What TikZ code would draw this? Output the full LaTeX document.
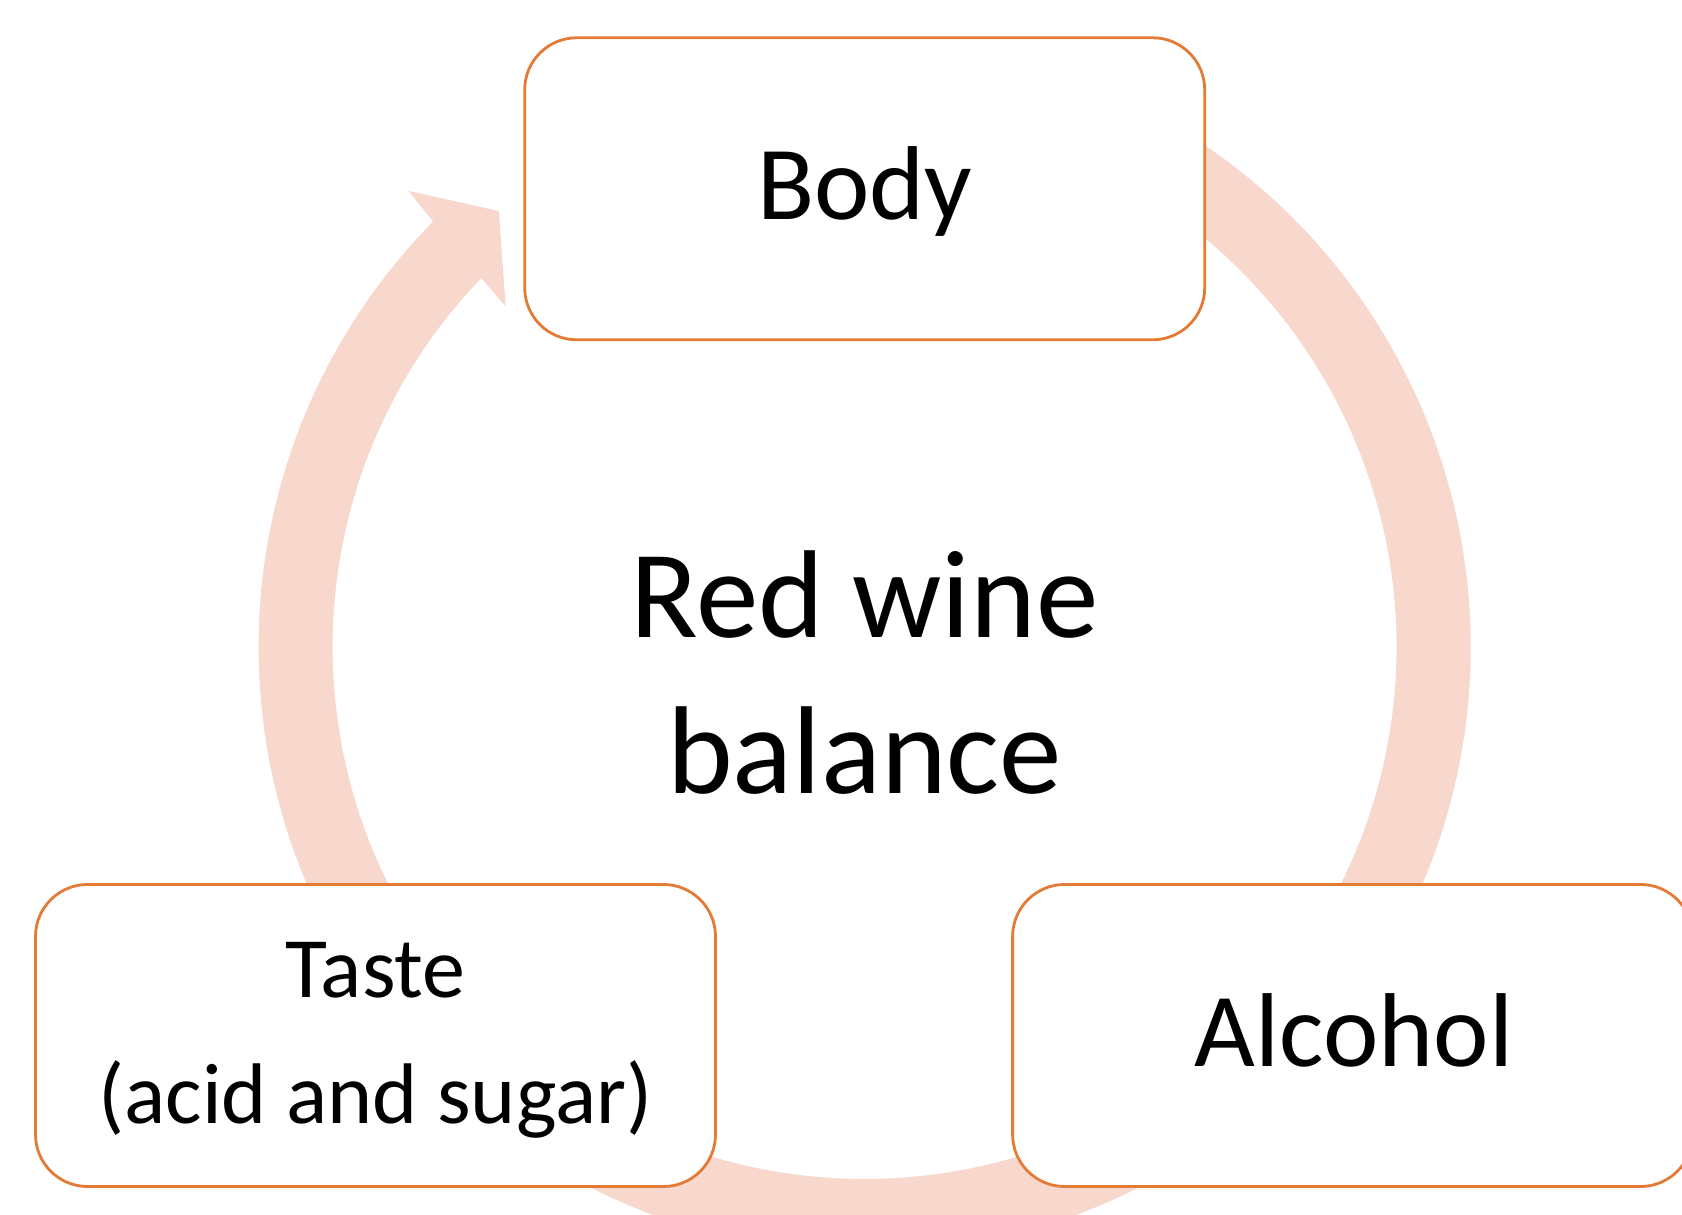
\documentclass[tikz,border=0pt]{standalone}
\usepackage{fontspec}
\setmainfont{Carlito}
\definecolor{ringc}{RGB}{248,215,205}
\definecolor{boxc}{RGB}{226,123,54}
\tikzset{
  pill/.style={draw=boxc, line width=2.8pt, fill=white, rounded corners=52pt,
    minimum width=680pt, minimum height=302pt, inner sep=0pt},
  lbl/.style={anchor=base, inner sep=0pt, text=black}
}
\begin{document}
\begin{tikzpicture}[x=1pt,y=1pt]
\useasboundingbox (0,0) rectangle (1682,1215);
\clip (0,0) rectangle (1682,1215);
\fill[white] (0,0) rectangle (1682,1215);
\coordinate (c) at (864.6,568);
% circular arrow
\begin{scope}[shift={(c)}]
\fill[ringc] (65:606pt) arc[start angle=65, end angle=-224.6, radius=606pt]
  -- (-225:645pt) -- (-230:569pt) -- (-223.5:495pt) -- (-223.9:532pt)
  arc[start angle=-223.9, end angle=65, radius=532pt] -- cycle;
\end{scope}
% boxes
\node[pill] (body) at (864.7,1026.2) {};
\node[pill] (taste) at (375.5,179.5) {};
\node[pill] (alcohol) at (1352.6,179.5) {};
% texts
\node[lbl, font=\fontsize{105}{126}\selectfont] (tbody) at (864.7,995) {Body};
\node[lbl, font=\fontsize{105}{126}\selectfont] (talc) at (1354,148) {Alcohol};
\node[lbl, font=\fontsize{86}{104}\selectfont] (ttaste) at (375.5,217.4) {Taste};
\node[lbl, font=\fontsize{86}{104}\selectfont] (tacid) at (375.5,91) {(acid and sugar)};
\node[lbl, font=\fontsize{125}{150}\selectfont] (tred) at (864.6,577) {Red wine};
\node[lbl, font=\fontsize{125}{150}\selectfont] (tbal) at (864.6,421) {balance};
\end{tikzpicture}
\end{document}
